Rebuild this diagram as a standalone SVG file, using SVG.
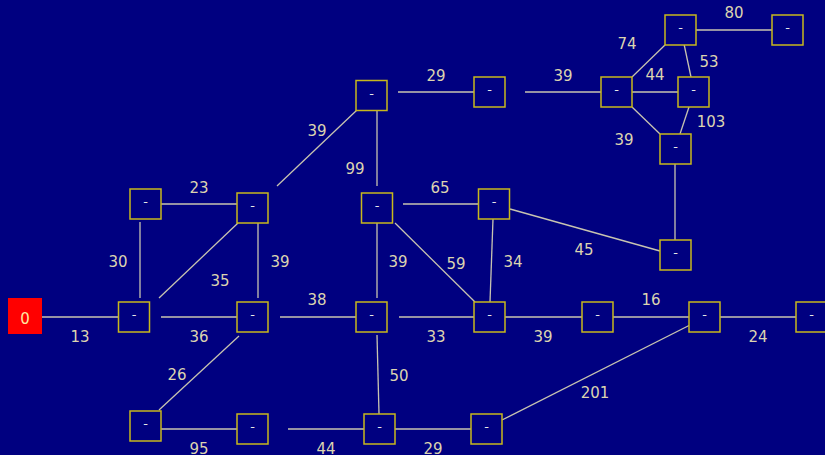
<svg xmlns="http://www.w3.org/2000/svg" width="825" height="455" viewBox="0 0 825 455">
<style>
.n rect{fill:#000080;stroke:#c8b81c;stroke-width:1.5}
.n text{fill:#e8e8e8;font-family:"DejaVu Sans",sans-serif;font-size:13px;text-anchor:middle}
#edges line{stroke:#c8c4b0;stroke-width:1.3}
.lb{fill:#dcd4b0;font-family:"DejaVu Sans",sans-serif;font-size:15px;text-anchor:middle}
</style>
<rect width="825" height="455" fill="#000080"/>
<g id="edges">
<line x1="42" y1="317" x2="118" y2="317"/>
<line x1="161" y1="317" x2="237" y2="317"/>
<line x1="280" y1="317" x2="356" y2="317"/>
<line x1="399" y1="317" x2="474" y2="317"/>
<line x1="505" y1="317" x2="582" y2="317"/>
<line x1="613" y1="317" x2="689" y2="317"/>
<line x1="720" y1="317" x2="796" y2="317"/>
<line x1="140" y1="222" x2="140" y2="298"/>
<line x1="161" y1="204" x2="237" y2="204"/>
<line x1="238" y1="223" x2="159" y2="298"/>
<line x1="258" y1="223" x2="258" y2="298"/>
<line x1="239" y1="336" x2="159" y2="410"/>
<line x1="161" y1="429" x2="237" y2="429"/>
<line x1="288" y1="429" x2="364" y2="429"/>
<line x1="395" y1="429" x2="471" y2="429"/>
<line x1="502" y1="420" x2="690" y2="325"/>
<line x1="377" y1="335" x2="379" y2="414"/>
<line x1="357" y1="110" x2="277" y2="186"/>
<line x1="377" y1="110" x2="377" y2="186"/>
<line x1="398" y1="92" x2="474" y2="92"/>
<line x1="525" y1="92" x2="601" y2="92"/>
<line x1="403" y1="204" x2="479" y2="204"/>
<line x1="377" y1="223" x2="377" y2="298"/>
<line x1="395" y1="223" x2="475" y2="302"/>
<line x1="493" y1="219" x2="490" y2="302"/>
<line x1="510" y1="209" x2="660" y2="251"/>
<line x1="675" y1="164" x2="675" y2="240"/>
<line x1="632" y1="77" x2="665" y2="45"/>
<line x1="632" y1="92" x2="678" y2="92"/>
<line x1="684" y1="44" x2="691" y2="77"/>
<line x1="632" y1="107" x2="660" y2="134"/>
<line x1="689" y1="107" x2="680" y2="134"/>
<line x1="696" y1="30" x2="772" y2="30"/>
</g>
<g id="labels" class="lb">
<text class="lb" x="80" y="341.5">13</text>
<text class="lb" x="199" y="341.5">36</text>
<text class="lb" x="317" y="304.5">38</text>
<text class="lb" x="436" y="341.5">33</text>
<text class="lb" x="543" y="341.5">39</text>
<text class="lb" x="651" y="304.5">16</text>
<text class="lb" x="758" y="341.5">24</text>
<text class="lb" x="118" y="266.5">30</text>
<text class="lb" x="199" y="192.5">23</text>
<text class="lb" x="220" y="285.5">35</text>
<text class="lb" x="280" y="266.5">39</text>
<text class="lb" x="177" y="379.5">26</text>
<text class="lb" x="199" y="453.5">95</text>
<text class="lb" x="326" y="453.5">44</text>
<text class="lb" x="433" y="453.5">29</text>
<text class="lb" x="595" y="397.5">201</text>
<text class="lb" x="399" y="380.5">50</text>
<text class="lb" x="317" y="135.5">39</text>
<text class="lb" x="355" y="173.5">99</text>
<text class="lb" x="436" y="80.5">29</text>
<text class="lb" x="563" y="80.5">39</text>
<text class="lb" x="440" y="192.5">65</text>
<text class="lb" x="398" y="266.5">39</text>
<text class="lb" x="456" y="268.5">59</text>
<text class="lb" x="513" y="266.5">34</text>
<text class="lb" x="584" y="254.5">45</text>
<text class="lb" x="627" y="48.5">74</text>
<text class="lb" x="655" y="79.5">44</text>
<text class="lb" x="709" y="66.5">53</text>
<text class="lb" x="624" y="144.5">39</text>
<text class="lb" x="711" y="126.5">103</text>
<text class="lb" x="734" y="17.5">80</text>
</g>
<g id="n0"><rect x="8" y="298" width="34" height="36" fill="#ff0000"/><text x="25" y="324" fill="#ffe8a0" font-family="DejaVu Sans, sans-serif" font-size="15" text-anchor="middle">0</text></g>
<g id="nA" class="n"><rect x="118.5" y="302" width="31" height="30"/><text x="134" y="319">-</text></g>
<g id="nB" class="n"><rect x="237" y="302" width="31" height="30"/><text x="252.5" y="319">-</text></g>
<g id="nC" class="n"><rect x="130" y="411" width="31" height="30"/><text x="145.5" y="428">-</text></g>
<g id="nD" class="n"><rect x="237" y="414" width="31" height="30"/><text x="252.5" y="431">-</text></g>
<g id="nE" class="n"><rect x="130" y="189" width="31" height="30"/><text x="145.5" y="206">-</text></g>
<g id="nF" class="n"><rect x="237" y="193" width="31" height="30"/><text x="252.5" y="210">-</text></g>
<g id="nG" class="n"><rect x="356" y="80.5" width="31" height="30"/><text x="371.5" y="97.5">-</text></g>
<g id="nH" class="n"><rect x="474" y="77" width="31" height="30"/><text x="489.5" y="94">-</text></g>
<g id="nI" class="n"><rect x="361.5" y="193" width="31" height="30"/><text x="377" y="210">-</text></g>
<g id="nJ" class="n"><rect x="478.5" y="189" width="31" height="30"/><text x="494" y="206">-</text></g>
<g id="nK" class="n"><rect x="665" y="15" width="31" height="30"/><text x="680.5" y="32">-</text></g>
<g id="nL" class="n"><rect x="772" y="15" width="31" height="30"/><text x="787.5" y="32">-</text></g>
<g id="nM" class="n"><rect x="601" y="77" width="31" height="30"/><text x="616.5" y="94">-</text></g>
<g id="nN" class="n"><rect x="678" y="77" width="31" height="30"/><text x="693.5" y="94">-</text></g>
<g id="nO" class="n"><rect x="660" y="134" width="31" height="30"/><text x="675.5" y="151">-</text></g>
<g id="nP" class="n"><rect x="660" y="240" width="31" height="30"/><text x="675.5" y="257">-</text></g>
<g id="nU" class="n"><rect x="356" y="302" width="31" height="30"/><text x="371.5" y="319">-</text></g>
<g id="nQ" class="n"><rect x="474" y="302" width="31" height="30"/><text x="489.5" y="319">-</text></g>
<g id="nR" class="n"><rect x="582" y="302" width="31" height="30"/><text x="597.5" y="319">-</text></g>
<g id="nS" class="n"><rect x="689" y="302" width="31" height="30"/><text x="704.5" y="319">-</text></g>
<g id="nT" class="n"><rect x="796" y="302" width="31" height="30"/><text x="811.5" y="319">-</text></g>
<g id="nV" class="n"><rect x="364" y="414" width="31" height="30"/><text x="379.5" y="431">-</text></g>
<g id="nW" class="n"><rect x="471" y="414" width="31" height="30"/><text x="486.5" y="431">-</text></g>
</svg>
